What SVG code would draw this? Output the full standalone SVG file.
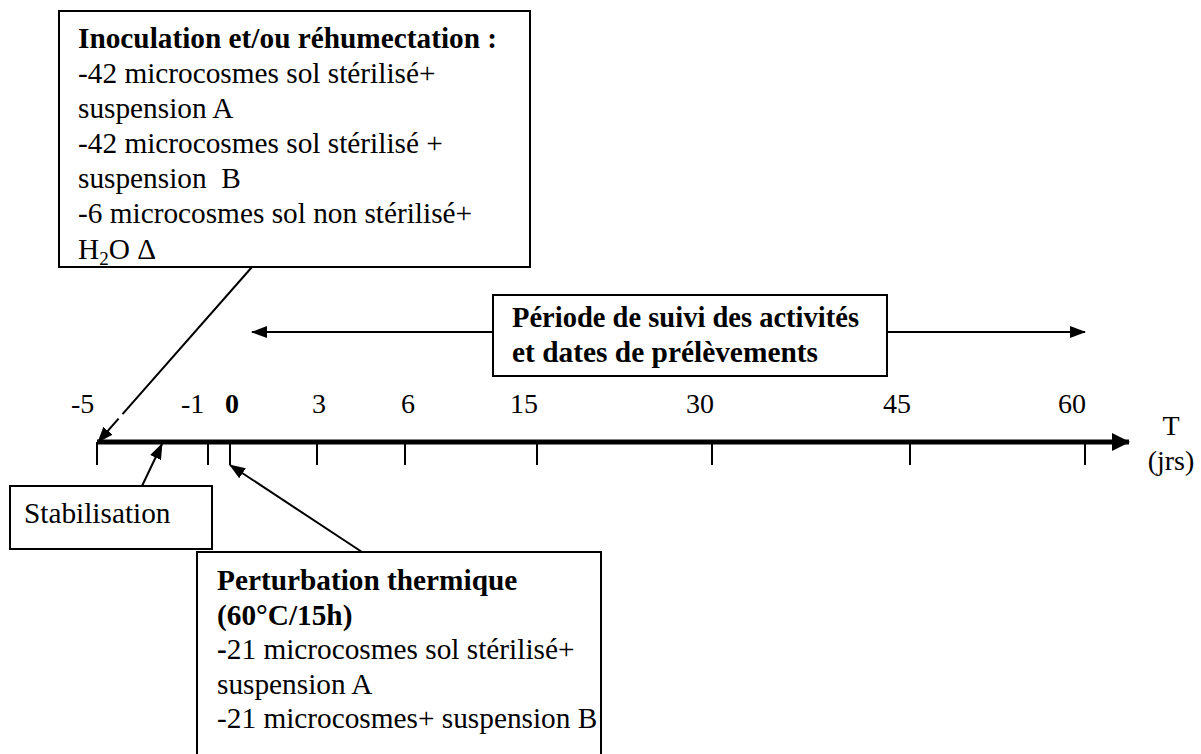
<svg xmlns="http://www.w3.org/2000/svg" width="1201" height="754" viewBox="0 0 1201 754">
<style>
  text { font-family: "Liberation Serif", "Times New Roman", serif; font-size: 29.3px; fill: #000; }
  .b { font-weight: bold; }
  .n { font-size: 28px; }
  .box { fill: #fff; stroke: #000; stroke-width: 2; }
  .conn { stroke: #000; stroke-width: 2; fill: none; }
  .tick { stroke: #000; stroke-width: 2; }
</style>
<defs>
  <marker id="ah" markerUnits="userSpaceOnUse" markerWidth="16" markerHeight="12" viewBox="0 0 16 12" refX="15" refY="6" orient="auto">
    <path d="M0,0 L16,6 L0,12 Z" fill="#000"/>
  </marker>
  <marker id="axh" markerUnits="userSpaceOnUse" markerWidth="18" markerHeight="18" viewBox="0 0 18 18" refX="17" refY="9" orient="auto">
    <path d="M0,0 L18,9 L0,18 Z" fill="#000"/>
  </marker>
</defs>

<g id="axis">
  <line x1="97" y1="442" x2="1129" y2="442" stroke="#000" stroke-width="5" marker-end="url(#axh)"/>
  <line class="tick" x1="97" y1="442" x2="97" y2="465"/>
  <line class="tick" x1="208" y1="442" x2="208" y2="465"/>
  <line class="tick" x1="230" y1="442" x2="230" y2="465"/>
  <line class="tick" x1="317" y1="442" x2="317" y2="465"/>
  <line class="tick" x1="405" y1="442" x2="405" y2="465"/>
  <line class="tick" x1="537" y1="442" x2="537" y2="465"/>
  <line class="tick" x1="712" y1="442" x2="712" y2="465"/>
  <line class="tick" x1="910" y1="442" x2="910" y2="465"/>
  <line class="tick" x1="1085" y1="442" x2="1085" y2="465"/>
  <text class="n" x="71" y="413">-5</text>
  <text class="n" x="181" y="413">-1</text>
  <text class="n b" x="225" y="413">0</text>
  <text class="n" x="312" y="413">3</text>
  <text class="n" x="401" y="413">6</text>
  <text class="n" x="510" y="413">15</text>
  <text class="n" x="686" y="413">30</text>
  <text class="n" x="883" y="413">45</text>
  <text class="n" x="1058" y="413">60</text>
  <text class="n" x="1171" y="435" text-anchor="middle">T</text>
  <text class="n" x="1171" y="470" text-anchor="middle">(jrs)</text>
</g>

<g id="connectors">
  <line class="conn" x1="252" y1="267" x2="98" y2="442" stroke-dasharray="196 6 1000" marker-end="url(#ah)"/>
  <line class="conn" x1="142" y1="486" x2="162" y2="444" marker-end="url(#ah)"/>
  <line class="conn" x1="362" y1="552" x2="230" y2="465" marker-end="url(#ah)"/>
  <line class="conn" x1="493" y1="332" x2="252" y2="332" marker-end="url(#ah)"/>
  <line class="conn" x1="887" y1="332" x2="1085" y2="332" marker-end="url(#ah)"/>
</g>

<g id="inoculation">
  <rect class="box" x="59" y="11" width="471" height="256"/>
  <text x="78" y="48" class="b">Inoculation et/ou réhumectation :</text>
  <text x="78" y="83">-42 microcosmes sol stérilisé+</text>
  <text x="78" y="118">suspension A</text>
  <text x="78" y="153">-42 microcosmes sol stérilisé +</text>
  <text x="78" y="188" xml:space="preserve">suspension  B</text>
  <text x="78" y="223">-6 microcosmes sol non stérilisé+</text>
  <text x="78" y="259">H<tspan font-size="19" dy="6">2</tspan><tspan dy="-6">O Δ</tspan></text>
</g>

<g id="periode">
  <rect class="box" x="493" y="295" width="394" height="81"/>
  <text x="512" y="327" class="b" textLength="347" lengthAdjust="spacingAndGlyphs">Période de suivi des activités</text>
  <text x="512" y="362" class="b" textLength="306" lengthAdjust="spacingAndGlyphs">et dates de prélèvements</text>
</g>

<g id="stabilisation">
  <rect class="box" x="10" y="486" width="202" height="63"/>
  <text x="24" y="523">Stabilisation</text>
</g>

<g id="perturbation">
  <rect class="box" x="197" y="552" width="404" height="220"/>
  <text x="217" y="590" class="b">Perturbation thermique</text>
  <text x="217" y="624.5" class="b">(60°C/15h)</text>
  <text x="217" y="659"><tspan class="b">-</tspan>21 microcosmes sol stérilisé+</text>
  <text x="217" y="693.5">suspension A</text>
  <text x="217" y="728">-21 microcosmes+ suspension B</text>
</g>
</svg>
